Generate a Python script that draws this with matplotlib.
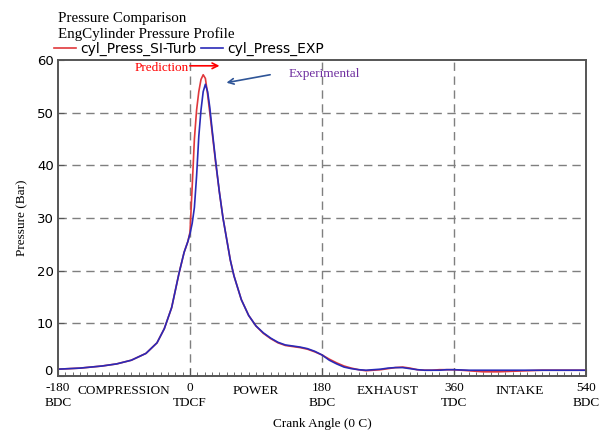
import matplotlib.pyplot as plt
import matplotlib.transforms as mtransforms
from matplotlib.ticker import MultipleLocator

# crank angle (deg) and cylinder pressure (bar)
angle = [-180, -150, -120, -100, -80, -60, -45, -35, -25, -15, -8, -3, 0,
         3, 6, 9, 12, 15, 18, 21, 24, 27, 30, 35, 40, 45, 50, 55, 60,
         70, 80, 90, 100, 110, 120, 130, 140, 150, 160, 170, 180, 190, 200,
         210, 220, 230, 240, 250, 260, 270, 280, 290, 300, 310, 320, 330,
         340, 350, 360, 380, 400, 420, 440, 460, 480, 500, 520, 540]

p_sim = [1.3, 1.5, 1.9, 2.3, 3.0, 4.3, 6.3, 9.0, 13.0, 19.5, 23.5, 25.5, 27.3,
         36.0, 45.0, 50.5, 54.0, 56.3, 57.2, 56.5, 53.5, 50.0, 46.5, 40.5, 35.0, 30.0, 26.0, 22.0, 19.0,
         14.5, 11.5, 9.5, 8.1, 7.1, 6.3, 5.8, 5.6, 5.4, 5.1, 4.6, 4.0, 3.2, 2.5,
         1.9, 1.5, 1.2, 1.0, 1.1, 1.2, 1.4, 1.6, 1.7, 1.5, 1.2, 1.1, 1.1,
         1.2, 1.2, 1.2, 1.0, 0.8, 0.8, 0.9, 1.0, 1.1, 1.1, 1.1, 1.1]

p_exp = [1.3, 1.5, 1.9, 2.3, 3.0, 4.3, 6.3, 9.0, 13.0, 19.5, 23.5, 25.5, 27.0,
         29.0, 32.0, 38.0, 45.5, 50.5, 54.0, 55.4, 54.0, 51.0, 47.0, 40.8, 35.0, 30.0, 26.0, 22.0, 19.0,
         14.5, 11.5, 9.5, 8.2, 7.2, 6.4, 5.9, 5.7, 5.5, 5.2, 4.7, 4.0, 3.0, 2.3,
         1.7, 1.4, 1.2, 1.1, 1.2, 1.3, 1.5, 1.6, 1.6, 1.4, 1.2, 1.1, 1.1,
         1.1, 1.2, 1.2, 1.1, 1.1, 1.1, 1.1, 1.1, 1.1, 1.1, 1.1, 1.1]

tick_pos    = [-180, 0, 180, 360, 540]
tick_labels = ['-180\nBDC', '0\nTDCF', '180\nBDC', '360\nTDC', '540\nBDC']
phase_pos   = [-90, 90, 270, 450]
phase_names = ['COMPRESSION', 'POWER', 'EXHAUST', 'INTAKE']

serif = 'Liberation Serif'
sans  = 'DejaVu Sans'

fig = plt.figure(figsize=(6.06, 4.33), dpi=100)
ax  = fig.add_axes([0.0957, 0.1316, 0.8713, 0.7298])

ax.plot(angle, p_sim, color='#e0383c', lw=1.2, label='cyl_Press_SI-Turb')
ax.plot(angle, p_exp, color='#2a2ab8', lw=1.2, label='cyl_Press_EXP')

ax.set_xlim(-180, 540)
ax.set_ylim(0, 60)
ax.set_xticks(tick_pos)
ax.set_xticklabels(tick_labels, fontfamily=serif, fontsize=9.5, linespacing=1.4)
ax.xaxis.set_minor_locator(MultipleLocator(10))
ax.set_yticks(range(0, 70, 10))
for lab in ax.get_yticklabels():
    lab.set_fontfamily(sans)
    lab.set_fontsize(9.5)
ax.tick_params(axis='x', which='major', direction='in', length=6, pad=4, color='#555555')
ax.tick_params(axis='x', which='minor', direction='in', length=3, color='#555555')
ax.tick_params(axis='y', direction='in', length=4, pad=3, color='#555555')

# lift the "0" label a little so it clears the -180 label, as in the original
zero_lab = ax.get_yticklabels()[0]
zero_lab.set_transform(zero_lab.get_transform() +
                       mtransforms.ScaledTranslation(-1 / 72, 4 / 72, fig.dpi_scale_trans))

for x, name in zip(phase_pos, phase_names):
    ax.text(x, -1.7, name, ha='center', va='top', fontfamily=serif, fontsize=9.5)

for y in range(10, 60, 10):
    ax.axhline(y, color='#7f7f7f', lw=1, ls=(0, (6, 4)), zorder=0)
for x in [0, 180, 360]:
    ax.axvline(x, color='#7f7f7f', lw=1, ls=(0, (6, 4)), zorder=0)

for s in ax.spines.values():
    s.set_color('#555555')
    s.set_linewidth(1.4)

ax.set_xlabel('Crank Angle (0 C)', fontfamily=serif, fontsize=9.5, labelpad=6)
ax.set_ylabel('Pressure (Bar)', fontfamily=serif, fontsize=9.5, labelpad=6)

fig.text(0.0957, 0.958, 'Pressure Comparison', fontfamily=serif, fontsize=10.8, va='center')
fig.text(0.0957, 0.921, 'EngCylinder Pressure Profile', fontfamily=serif, fontsize=10.8, va='center')

leg = ax.legend(loc='lower left', bbox_to_anchor=(-0.008, 1.012), ncol=2, frameon=False,
                prop={'family': sans, 'size': 10}, handlelength=1.6, handletextpad=0.3,
                columnspacing=0.3, borderaxespad=0, borderpad=0)

ax.annotate('', xy=(44, 58.9), xytext=(-4, 58.9),
            arrowprops=dict(arrowstyle='->', color='red', lw=1.2))
ax.text(-2, 58.5, 'Prediction', color='red', ha='right', va='center',
        fontfamily=serif, fontsize=9.5)
ax.annotate('', xy=(46, 55.6), xytext=(113, 57.3),
            arrowprops=dict(arrowstyle='->', color='#2f5597', lw=1.2))
ax.text(134, 57.3, 'Experimental', color='#7030a0', ha='left', va='center',
        fontfamily=serif, fontsize=9.5)

plt.savefig('out.png', dpi=100)
